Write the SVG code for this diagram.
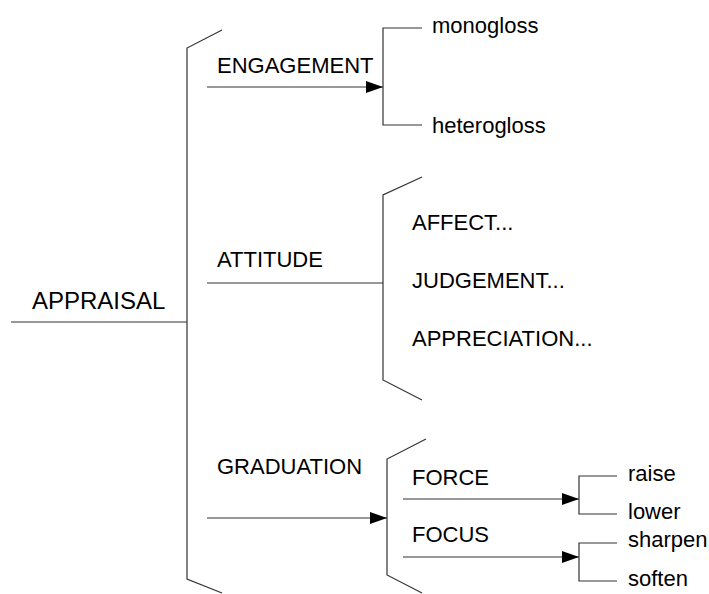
<svg xmlns="http://www.w3.org/2000/svg" width="709" height="594" viewBox="0 0 709 594">
<style>
text{font-family:"Liberation Sans",Arial,sans-serif;font-size:22px;fill:#000}
.big{font-size:24px}
.ln{fill:none;stroke:#333;stroke-width:1.2}
</style>
<defs>
<marker id="ah" markerUnits="userSpaceOnUse" markerWidth="20" markerHeight="14" refX="18" refY="7" orient="auto">
<path d="M1,1 L18,7 L1,13 Z" fill="#000"/>
</marker>
</defs>
<rect width="709" height="594" fill="#fff"/>
<g id="connectors" class="ln">
<path d="M11,322 H187"/>
<path d="M222,30 L187,48 V579 L222,593"/>
<path d="M207,87 H383" marker-end="url(#ah)"/>
<path d="M422,28 H383 V125 H422"/>
<path d="M207,283 H383"/>
<path d="M422,177 L383,195 V380 L422,400"/>
<path d="M207,518 H387" marker-end="url(#ah)"/>
<path d="M426,439 L387,459 V575 L422,593"/>
<path d="M403,499 H579" marker-end="url(#ah)"/>
<path d="M617,476 H579 V514 H617"/>
<path d="M403,557 H579" marker-end="url(#ah)"/>
<path d="M617,543 H579 V581 H617"/>
</g>
<g id="appraisal"><text class="big" x="32" y="309">APPRAISAL</text></g>
<g id="engagement"><text x="217" y="73">ENGAGEMENT</text></g>
<g id="monogloss"><text x="432" y="33">monogloss</text></g>
<g id="heterogloss"><text x="432" y="133">heterogloss</text></g>
<g id="attitude"><text x="217" y="267">ATTITUDE</text></g>
<g id="affect"><text x="412" y="230">AFFECT...</text></g>
<g id="judgement"><text x="412" y="288">JUDGEMENT...</text></g>
<g id="appreciation"><text x="412" y="346">APPRECIATION...</text></g>
<g id="graduation"><text x="217" y="474">GRADUATION</text></g>
<g id="force"><text x="412" y="485">FORCE</text></g>
<g id="focus"><text x="412" y="542">FOCUS</text></g>
<g id="raise"><text x="628" y="481">raise</text></g>
<g id="lower"><text x="628" y="519">lower</text></g>
<g id="sharpen"><text x="628" y="547">sharpen</text></g>
<g id="soften"><text x="628" y="586">soften</text></g>
</svg>
